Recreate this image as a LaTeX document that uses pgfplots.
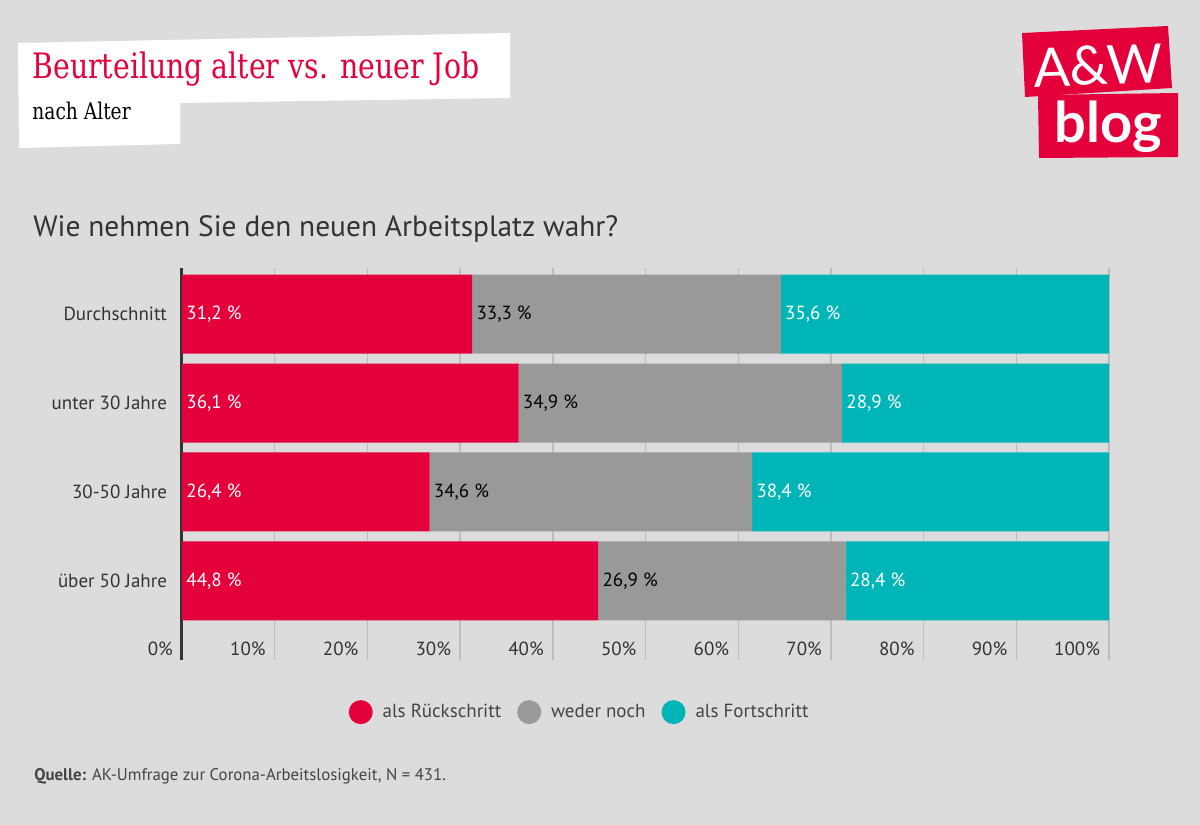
\documentclass[border=0pt]{standalone}
\usepackage{fontspec}
\setmainfont{PT Sans}
\newfontfamily\slab{DejaVu Serif}[FakeStretch=0.81]
\newfontfamily\logofont{Lato}
\usepackage{pgfplots}
\pgfplotsset{compat=1.18}
\definecolor{bg}{HTML}{DCDCDC}
\definecolor{cR}{HTML}{E4003A}
\definecolor{cG}{HTML}{999999}
\definecolor{cT}{HTML}{00B5B8}
\definecolor{cGrid}{HTML}{BDBDBD}
\definecolor{c33}{HTML}{333333}
\definecolor{c44}{HTML}{444444}
\begin{document}
\begin{tikzpicture}
\fill[bg] (0,0) rectangle (600pt,412.5pt);
\useasboundingbox (0,0) rectangle (600pt,412.5pt);
\begin{scope}[x=0.5pt,y=-0.5pt,shift={(0,412.5pt)}]
  % title box
  \fill[white] (18,43)--(510,33)--(510,98)--(180,103)--(180,144)--(19,148)--cycle;
  \node[anchor=base west, inner sep=0pt, text=cR, font=\slab\fontsize{17.5}{20}\selectfont] at (32,79) {Beurteilung alter vs. neuer Job};
  \node[anchor=base west, inner sep=0pt, text=black, font=\slab\fontsize{11.5}{14}\selectfont] at (32,120) {nach Alter};
  % logo
  \fill[cR] (1022,33)--(1168,26)--(1172,88)--(1025,97)--cycle;
  \fill[cR] (1038,95)--(1178,93)--(1178,157)--(1039,158)--cycle;
  \node[text=white, inner sep=0pt, anchor=base, rotate=2, font=\logofont\fontsize{27}{30}\selectfont] at (1099,85) {A\&W};
  \node[text=white, inner sep=0pt, anchor=base, font=\logofont\bfseries\fontsize{28}{30}\selectfont] at (1108,143) {blog};
  % question
  \node[anchor=base west, inner sep=0pt, text=c33, font=\fontsize{14.7}{17}\selectfont] at (33,237) {Wie nehmen Sie den neuen Arbeitsplatz wahr?};
  % source
  \node[anchor=base west, inner sep=0pt, text=c44, font=\fontsize{8.4}{10}\selectfont] at (34,781) {\textbf{Quelle:} AK-Umfrage zur Corona-Arbeitslosigkeit, N = 431.};
\end{scope}
\begin{axis}[
  at={(91pt,82.5pt)}, anchor=south west,
  width=463.5pt, height=196pt, scale only axis,
  xbar stacked, bar width=39.5pt,
  xmin=0, xmax=100, ymin=-0.89, ymax=3.52,
  ytick={0,1,2,3},
  yticklabels={über 50 Jahre,30-50 Jahre,unter 30 Jahre,Durchschnitt},
  xtick={0,10,...,100},
  xticklabel={\pgfmathprintnumber{\tick}\%},
  /pgf/number format/assume math mode=true,
  major tick length=0pt,
  xmajorgrids, major grid style={draw=cGrid, line width=0.7pt},
  axis y line*=left,
  x axis line style={draw=none},
  y axis line style={draw=c33, line width=1.5pt, -},
  yticklabel style={font=\fontsize{9.5}{11}\selectfont, text=c33, xshift=-4pt},
  xticklabel style={font=\fontsize{9.5}{11}\selectfont, text=c33, anchor=south east, xshift=-1pt, yshift=-1.5pt},
  legend style={at={(0.43,-0.133)}, anchor=center, draw=none, fill=none,
    font=\fontsize{9.5}{11}\selectfont, text=c44,
    /tikz/every odd column/.append style={column sep=3pt},
    /tikz/every even column/.append style={column sep=6pt}},
  legend columns=3, legend cell align=left,
]
\addplot[fill=cR, draw=none, legend image code/.code={\fill[cR] (6pt,0pt) circle (6pt);}]
  coordinates {(44.9,0) (26.7,1) (36.3,2) (31.3,3)};
\addlegendentry{als Rückschritt}
\addplot[fill=cG, draw=none, legend image code/.code={\fill[cG] (6pt,0pt) circle (6pt);}]
  coordinates {(26.7,0) (34.8,1) (34.9,2) (33.3,3)};
\addlegendentry{weder noch}
\addplot[fill=cT, draw=none, legend image code/.code={\fill[cT] (6pt,0pt) circle (6pt);}]
  coordinates {(28.4,0) (38.5,1) (28.8,2) (35.4,3)};
\addlegendentry{als Fortschritt}
\end{axis}
\begin{axis}[
  at={(91pt,82.5pt)}, anchor=south west,
  width=463.5pt, height=196pt, scale only axis,
  xmin=0, xmax=100, ymin=-0.89, ymax=3.52,
  hide axis, clip=false,
  nodes near coords, point meta=explicit symbolic,
  every node near coord/.append style={anchor=west, inner sep=0pt, xshift=2pt, font=\fontsize{9.5}{11}\selectfont},
]
\addplot[draw=none, mark=none, nodes near coords style={text=white}]
  coordinates {(0,0) [44,8 \%] (0,1) [26,4 \%] (0,2) [36,1 \%] (0,3) [31,2 \%]};
\addplot[draw=none, mark=none, nodes near coords style={text=black}]
  coordinates {(44.9,0) [26,9 \%] (26.7,1) [34,6 \%] (36.3,2) [34,9 \%] (31.3,3) [33,3 \%]};
\addplot[draw=none, mark=none, nodes near coords style={text=white}]
  coordinates {(71.6,0) [28,4 \%] (61.5,1) [38,4 \%] (71.2,2) [28,9 \%] (64.6,3) [35,6 \%]};
\end{axis}
\end{tikzpicture}
\end{document}
